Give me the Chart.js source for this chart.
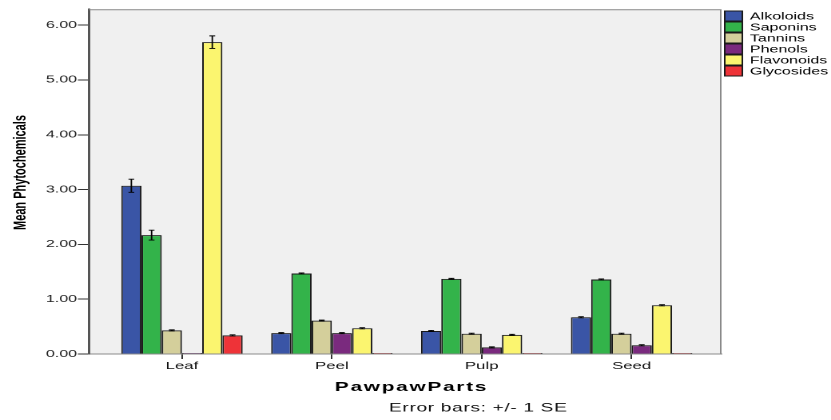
<!DOCTYPE html>
<html>
<head>
<meta charset="utf-8">
<script src="https://cdn.jsdelivr.net/npm/chart.js@4/dist/chart.umd.min.js"></script>
<style>
  html, body { margin: 0; padding: 0; background: #ffffff; }
  #c { display: block; }
</style>
</head>
<body>
<!-- drawn on a narrower logical canvas and shown wider, so glyphs come out broad -->
<canvas id="c" width="520" height="420" style="width:831px;height:420px"></canvas>
<script>
// Plant parts on the category axis
const categories = ['Leaf', 'Peel', 'Pulp', 'Seed'];
const seriesNames = ['Alkoloids', 'Saponins', 'Tannins', 'Phenols', 'Flavonoids', 'Glycosides'];

// Mean values per part
const alkoloids  = [3.07, 0.38, 0.42, 0.67];
const saponins   = [2.17, 1.47, 1.37, 1.36];
const tannins    = [0.43, 0.61, 0.37, 0.37];
const phenols    = [0.00, 0.38, 0.12, 0.16];
const flavonoids = [5.69, 0.47, 0.35, 0.89];
const glycosides = [0.34, 0.00, 0.00, 0.00];

// Standard errors (+/- 1 SE)
const alkoloidsSE  = [0.12, 0.01, 0.01, 0.01];
const saponinsSE   = [0.09, 0.01, 0.01, 0.01];
const tanninsSE    = [0.01, 0.01, 0.01, 0.01];
const phenolsSE    = [0.00, 0.01, 0.01, 0.01];
const flavonoidsSE = [0.115, 0.01, 0.01, 0.01];
const glycosidesSE = [0.01, 0.00, 0.00, 0.00];

const yTicks = [0, 1, 2, 3, 4, 5, 6];

const seriesValues = [alkoloids, saponins, tannins, phenols, flavonoids, glycosides];
const seriesSE = [alkoloidsSE, saponinsSE, tanninsSE, phenolsSE, flavonoidsSE, glycosidesSE];
const seriesColors = ['#3a55a6', '#33b34a', '#d4cf9b', '#7a2a7e', '#fbf56f', '#ee3338'];

const FONT = '"Liberation Sans", Arial, sans-serif';

// Grey plot background plus top/right frame
const framePlugin = {
  id: 'frame',
  beforeDraw(chart) {
    const { ctx, chartArea: a } = chart;
    ctx.save();
    ctx.fillStyle = '#f0f0f0';
    ctx.fillRect(a.left, a.top, a.right - a.left, a.bottom - a.top);
    ctx.restore();
  },
  afterDraw(chart) {
    const { ctx, chartArea: a } = chart;
    ctx.save();
    ctx.strokeStyle = '#8a8a8a';
    ctx.lineWidth = 1;
    ctx.beginPath();
    ctx.moveTo(a.left, a.top + 0.5);
    ctx.lineTo(a.right - 0.5, a.top + 0.5);
    ctx.lineTo(a.right - 0.5, a.bottom);
    ctx.stroke();
    ctx.restore();
  }
};

// Error bars at each bar centre
const errorBarPlugin = {
  id: 'errorBars',
  afterDatasetsDraw(chart) {
    const { ctx } = chart;
    const y = chart.scales.y;
    ctx.save();
    ctx.strokeStyle = '#000';
    ctx.lineWidth = 0.9;
    chart.data.datasets.forEach((ds, d) => {
      const meta = chart.getDatasetMeta(d);
      meta.data.forEach((bar, i) => {
        const v = seriesValues[d][i];
        const e = seriesSE[d][i];
        if (!e) return;
        const yt = y.getPixelForValue(v + e);
        const yb = y.getPixelForValue(v - e);
        const cap = 1.8;
        ctx.beginPath();
        ctx.moveTo(bar.x, yt); ctx.lineTo(bar.x, yb);
        ctx.moveTo(bar.x - cap, yt); ctx.lineTo(bar.x + cap, yt);
        ctx.moveTo(bar.x - cap, yb); ctx.lineTo(bar.x + cap, yb);
        ctx.stroke();
      });
    });
    ctx.restore();
  }
};

// Legend on the right and the axis titles / footnote
const textPlugin = {
  id: 'texts',
  afterDraw(chart) {
    const { ctx } = chart;
    ctx.save();
    // legend
    const rowY = [16, 27, 38, 49, 60, 71];
    ctx.font = '10px ' + FONT;
    ctx.textBaseline = 'middle';
    ctx.textAlign = 'left';
    chart.data.datasets.forEach((ds, d) => {
      const cy = rowY[d];
      ctx.fillStyle = ds.backgroundColor;
      ctx.fillRect(453.5, cy - 5, 11, 10);
      ctx.strokeStyle = '#1a1a1a';
      ctx.lineWidth = 1;
      ctx.strokeRect(453.5, cy - 5, 11, 10);
      ctx.fillStyle = '#000';
      ctx.fillText(ds.label, 469.3, cy + 0.5);
    });

    // y-axis title
    ctx.save();
    ctx.translate(16, 172.5);
    ctx.rotate(-Math.PI / 2);
    ctx.font = 'bold 11px ' + FONT;
    ctx.textAlign = 'center';
    ctx.textBaseline = 'alphabetic';
    ctx.fillStyle = '#000';
    ctx.fillText('Mean Phytochemicals', 0, 0);
    ctx.restore();

    // x-axis title
    ctx.font = 'bold 13px ' + FONT;
    ctx.textAlign = 'center';
    ctx.textBaseline = 'alphabetic';
    ctx.fillStyle = '#000';
    if ('letterSpacing' in ctx) ctx.letterSpacing = '1.1px';
    ctx.fillText('PawpawParts', 257.5, 390.8);

    // footnote
    if ('letterSpacing' in ctx) ctx.letterSpacing = '0.4px';
    ctx.font = '12px ' + FONT;
    ctx.textAlign = 'left';
    ctx.fillStyle = '#111';
    ctx.fillText('Error bars: +/- 1 SE', 243.4, 411.5);
    if ('letterSpacing' in ctx) ctx.letterSpacing = '0px';
    ctx.restore();
  }
};

const datasets = seriesNames.map((name, d) => ({
  label: name,
  data: categories.map((c, i) => ({ x: i, y: seriesValues[d][i] })),
  backgroundColor: seriesColors[d],
  borderColor: '#1a1a1a',
  borderWidth: 1,
  minBarLength: 1
}));

new Chart(document.getElementById('c'), {
  type: 'bar',
  data: { datasets },
  options: {
    responsive: false,
    devicePixelRatio: 2,
    animation: false,
    events: [],
    layout: { padding: { top: 9.3, right: 68.5, bottom: 0, left: 0 } },
    datasets: { bar: { categoryPercentage: 0.81, barPercentage: 1.0 } },
    plugins: { legend: { display: false }, tooltip: { enabled: false } },
    scales: {
      x: {
        type: 'linear',
        min: -0.62,
        max: 3.60,
        offset: false,
        afterBuildTicks: s => { s.ticks = categories.map((c, i) => ({ value: i })); },
        afterFit: s => { s.height = 66; },
        ticks: {
          autoSkip: false,
          maxRotation: 0,
          padding: 1,
          color: '#111',
          font: { family: FONT, size: 10.5 },
          callback: v => categories[v] ?? ''
        },
        grid: { offset: false, drawOnChartArea: false, drawTicks: true, tickLength: 5, color: '#333', lineWidth: 1 },
        border: { display: true, color: '#8a8a8a', width: 1 }
      },
      y: {
        type: 'linear',
        min: 0,
        max: 6.29,
        afterBuildTicks: s => { s.ticks = yTicks.map(v => ({ value: v })); },
        afterFit: s => { s.width = 55.7; },
        ticks: {
          padding: 0.5,
          color: '#222',
          font: { family: FONT, size: 10 },
          callback: v => Number(v).toFixed(2)
        },
        grid: { drawOnChartArea: false, drawTicks: true, tickLength: 7, color: '#333', lineWidth: 1 },
        border: { display: true, color: '#555', width: 1.5 }
      }
    }
  },
  plugins: [framePlugin, errorBarPlugin, textPlugin]
});
</script>
</body>
</html>
